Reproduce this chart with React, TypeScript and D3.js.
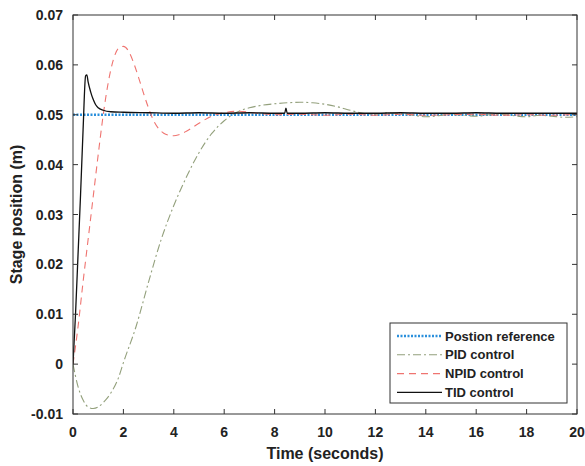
import React from "react";
import * as d3 from "d3";

const xTicks = [0, 2, 4, 6, 8, 10, 12, 14, 16, 18, 20];
const yTicks = [-0.01, 0, 0.01, 0.02, 0.03, 0.04, 0.05, 0.06, 0.07];
const yTickLabels = ["-0.01", "0", "0.01", "0.02", "0.03", "0.04", "0.05", "0.06", "0.07"];

const refT = [0, 20];
const refV = [0.05, 0.05];

const pidT = [0, 0.2, 0.4, 0.6, 0.8, 1.0, 1.2, 1.5, 1.8, 2.0, 2.5, 3.0, 3.5, 4.0, 4.5, 5.0, 5.5, 6.0, 6.5, 7.0, 7.5, 8.0, 8.5, 9.0, 9.5, 10.0, 10.5, 11.0, 11.5, 12, 12.5, 13, 13.5, 14, 14.5, 15, 15.5, 16, 16.5, 17, 17.5, 18, 18.5, 19, 19.5, 20];
const pidV = [0, -0.0045, -0.0072, -0.0086, -0.0089, -0.0086, -0.0077, -0.0058, -0.0028, 0.0003, 0.0075, 0.0165, 0.025, 0.0318, 0.0375, 0.0424, 0.0462, 0.0488, 0.0505, 0.0514, 0.0519, 0.0522, 0.0524, 0.0525, 0.0524, 0.0521, 0.0516, 0.0509, 0.0503, 0.0501, 0.0504, 0.0502, 0.0499, 0.0496, 0.0498, 0.0501, 0.0499, 0.0497, 0.0500, 0.0501, 0.0498, 0.0496, 0.0499, 0.0497, 0.0495, 0.0496];

const npidT = [0, 0.2, 0.4, 0.6, 0.8, 1.0, 1.2, 1.4, 1.6, 1.8, 2.0, 2.2, 2.4, 2.6, 2.8, 3.0, 3.2, 3.4, 3.6, 3.8, 4.0, 4.2, 4.5, 5.0, 5.5, 6.0, 6.5, 7.0, 7.5, 8.0, 9, 10, 11, 12, 13, 14, 15, 16, 17, 18, 19, 20];
const npidV = [0, 0.0075, 0.0165, 0.025, 0.0335, 0.042, 0.05, 0.0565, 0.061, 0.0633, 0.0637, 0.0628, 0.0605, 0.0575, 0.0543, 0.0513, 0.0488, 0.0472, 0.0463, 0.0459, 0.0458, 0.046, 0.0467, 0.0483, 0.0497, 0.0504, 0.0507, 0.0505, 0.0502, 0.05, 0.0501, 0.0499, 0.0501, 0.0499, 0.0501, 0.0499, 0.05, 0.0501, 0.0499, 0.05, 0.0499, 0.0501];

const tidT = [0, 0.1, 0.2, 0.3, 0.4, 0.5, 0.55, 0.6, 0.7, 0.8, 0.9, 1.0, 1.2, 1.5, 2, 3, 4, 5, 6, 7, 8, 8.4, 8.45, 8.5, 9, 10, 11, 12, 13, 14, 15, 16, 17, 18, 19, 20];
const tidV = [0, 0.01, 0.022, 0.034, 0.047, 0.0578, 0.058, 0.0566, 0.0546, 0.0531, 0.052, 0.0514, 0.0509, 0.0506, 0.0505, 0.0504, 0.0503, 0.0504, 0.0503, 0.0504, 0.0503, 0.0503, 0.0513, 0.0503, 0.0503, 0.0504, 0.0503, 0.0503, 0.0504, 0.0503, 0.0503, 0.0504, 0.0503, 0.0503, 0.0503, 0.0503];

const seriesNames = ["Postion reference", "PID control", "NPID control", "TID control"];

const W = 585, H = 466;
const L = 73, R = 577, T = 15, B = 414;
const font = "'Liberation Sans', Arial, sans-serif";

export default function App() {
  const x = d3.scaleLinear().domain([0, 20]).range([L, R]);
  const y = d3.scaleLinear().domain([-0.01, 0.07]).range([B, T]);
  const mk = (ts: number[], vs: number[]) =>
    d3.line<number>().x((_, i) => x(ts[i])).y((v) => y(v)).curve(d3.curveMonotoneX)(vs) || "";

  const styles = [
    { color: "#2a8fdc", dash: "2,1.5", width: 2.4 },
    { color: "#93a07c", dash: "8,3,2,3", width: 1.1 },
    { color: "#ef7470", dash: "7,5", width: 1.1 },
    { color: "#111111", dash: "", width: 1.3 },
  ];
  const paths = [mk(refT, refV), mk(pidT, pidV), mk(npidT, npidV), mk(tidT, tidV)];
  const axisColor = "#333";
  const tl = 5;
  const legX = 390, legY = 323, legW = 177, legH = 80;

  return (
    <svg width={W} height={H} style={{ position: "absolute", left: 0, top: 0, background: "#fff" }}>
      <defs>
        <clipPath id="clip">
          <rect x={L} y={T} width={R - L} height={B - T} />
        </clipPath>
      </defs>
      <rect x={0} y={0} width={W} height={H} fill="#fff" />
      <g clipPath="url(#clip)">
        {paths.map((p, i) => (
          <path key={i} d={p} fill="none" stroke={styles[i].color} strokeWidth={styles[i].width}
            strokeDasharray={styles[i].dash || undefined} />
        ))}
      </g>
      <rect x={L} y={T} width={R - L} height={B - T} fill="none" stroke={axisColor} strokeWidth={1} />
      {xTicks.map((t) => (
        <g key={"x" + t}>
          <line x1={x(t)} x2={x(t)} y1={B} y2={B - tl} stroke={axisColor} />
          <line x1={x(t)} x2={x(t)} y1={T} y2={T + tl} stroke={axisColor} />
          <text x={x(t)} y={437} textAnchor="middle" fontFamily={font} fontWeight="bold" fontSize={14} fill="#222">{t}</text>
        </g>
      ))}
      {yTicks.map((v, i) => (
        <g key={"y" + i}>
          <line x1={L} x2={L + tl} y1={y(v)} y2={y(v)} stroke={axisColor} />
          <line x1={R} x2={R - tl} y1={y(v)} y2={y(v)} stroke={axisColor} />
          <text x={L - 10} y={y(v) + 5} textAnchor="end" fontFamily={font} fontWeight="bold" fontSize={14} fill="#222">{yTickLabels[i]}</text>
        </g>
      ))}
      <text x={(L + R) / 2} y={459} textAnchor="middle" fontFamily={font} fontWeight="bold" fontSize={16} fill="#222">Time (seconds)</text>
      <text transform={`translate(22,${(T + B) / 2}) rotate(-90)`} textAnchor="middle" fontFamily={font} fontWeight="bold" fontSize={16} fill="#222">Stage position (m)</text>
      <rect x={legX} y={legY} width={legW} height={legH} fill="#fff" stroke={axisColor} strokeWidth={1} />
      {seriesNames.map((n, i) => {
        const yy = legY + 13 + i * 18.8;
        return (
          <g key={n}>
            <line x1={legX + 7} x2={legX + 52} y1={yy} y2={yy} stroke={styles[i].color}
              strokeWidth={styles[i].width} strokeDasharray={styles[i].dash || undefined} />
            <text x={legX + 55} y={yy + 4.5} fontFamily={font} fontWeight="bold" fontSize={13} fill="#222">{n}</text>
          </g>
        );
      })}
    </svg>
  );
}
